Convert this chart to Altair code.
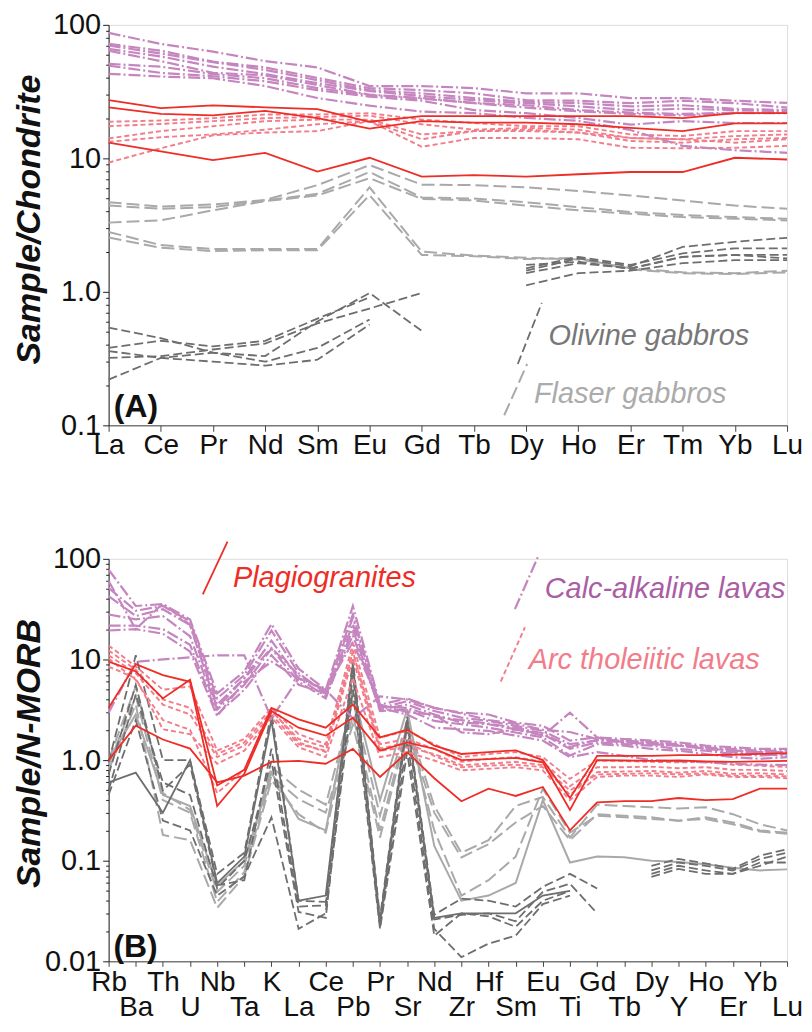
import altair as alt
import pandas as pd

# ---------------- categories ----------------
REE = ["La", "Ce", "Pr", "Nd", "Sm", "Eu", "Gd", "Tb", "Dy", "Ho", "Er", "Tm", "Yb", "Lu"]
SPIDER = ["Rb", "Ba", "Th", "U", "Nb", "Ta", "K", "La", "Ce", "Pb", "Pr", "Sr", "Nd",
          "Zr", "Hf", "Sm", "Eu", "Ti", "Gd", "Tb", "Dy", "Y", "Ho", "Er", "Yb", "Lu"]

# ---------------- panel A : chondrite-normalised REE ----------------
a_calc = [
    [87, 72, 63, 53.5, 48, 34.8, 34.8, 33.6, 30.7, 30.7, 28.3, 28.3, 27, 26],
    [72, 64, 53, 48, 40, 33.6, 32.4, 30.7, 27.3, 27, 25.9, 27, 25.9, 24],
    [70, 61, 52.5, 46, 38.5, 32.4, 30.7, 28.3, 26.5, 25.9, 24.5, 25, 23.5, 23],
    [66, 58, 48.6, 42.8, 36.6, 31.9, 29.3, 27.3, 25.9, 24.5, 23, 23.5, 23, 22.6],
    [64, 53.5, 43.7, 41.9, 35.4, 30, 28.3, 26, 25, 23, 22, 21.5, 22, 22],
    [51, 48.6, 42.8, 39.8, 33.6, 29.8, 28, 25.9, 24, 22.5, 21.5, 21, 21.8, 21.8],
    [49.5, 43.7, 41.2, 37.8, 32.4, 29, 27, 23, 21.8, 20.1, 17.9, 19, 18.4, 18.4],
    [43, 41, 39.8, 34.8, 28.3, 24.8, 22.4, 21.8, 20.1, 19.1, 16.3, 12.4, 11.5, 11],
]
a_plag = [
    [27.3, 23.8, 24.9, 24.1, 23.4, 18.8, 20.7, 20.7, 20.7, 20.7, 20.7, 20, 21.8, 21.8],
    [24.1, 21.5, 21, 22.7, 20, 16.7, 19, 18.5, 18.5, 18, 16.9, 16, 18.3, 18.3],
    [13.1, 11.3, 9.7, 11, 7.95, 10.1, 7.3, 7.5, 7.3, 7.6, 7.9, 7.9, 10.1, 9.8],
]
a_arc = [
    [18.8, 19.2, 20, 21.3, 21.3, 21.8, 19.5, 18.4, 17.4, 17.4, 15.1, 14.7, 16, 16],
    [17.4, 18.1, 19, 20, 20.4, 20.9, 18, 16.4, 16.9, 16.4, 14.2, 13.9, 14.7, 15.1],
    [14.1, 16, 17.4, 19, 19.5, 19.5, 15.1, 16, 16.4, 15.6, 13.5, 13.1, 13.9, 14.2],
    [13.3, 14.4, 15.1, 16.4, 18, 19, 13.9, 16, 16, 15.6, 14.2, 13.9, 13.1, 13.9],
    [9.3, 11.9, 14.9, 15.6, 16, 19, 12.2, 14.2, 14.2, 13.9, 12, 11.9, 12, 12.4],
]
a_flaser = [
    [4.69, 4.36, 4.51, 4.88, 6.3, 8.9, 6.35, 6.3, 6.06, 5.7, 5.27, 4.84, 4.43, 4.19],
    [4.43, 4.19, 4.31, 4.84, 5.42, 7.9, 5.1, 5.0, 4.69, 4.31, 3.96, 3.76, 3.63, 3.53],
    [3.30, 3.43, 4.08, 4.78, 5.27, 7.1, 4.97, 4.84, 4.43, 4.08, 3.85, 3.63, 3.53, 3.43],
    [2.81, 2.24, 2.09, 2.09, 2.09, 6.06, 2.0, 1.87, 1.80, 1.75, 1.50, 1.40, 1.38, 1.44],
    [2.55, 2.14, 2.02, 2.05, 2.05, 5.3, 1.89, 1.85, 1.76, 1.80, 1.47, 1.38, 1.36, 1.40],
]
a_olivine = [
    [0.54, 0.45, 0.35, 0.33, 0.60, 0.98, 0.51, None, 1.44, 1.78, 1.55, 2.17, 2.37, 2.54],
    [0.38, 0.43, 0.39, 0.43, 0.63, 0.91, None, None, 1.50, 1.83, 1.59, 1.94, 2.12, 2.12],
    [0.32, 0.33, 0.37, 0.41, 0.58, 0.75, 0.98, None, 1.59, 1.68, 1.49, 1.83, 1.89, 1.78],
    [0.36, 0.32, 0.30, 0.28, 0.31, 0.57, None, None, 1.12, 1.38, 1.44, 1.64, 1.73, 1.73],
    [0.22, 0.32, 0.35, 0.30, 0.38, 0.62, None, None, 1.38, 1.64, 1.50, 1.83, 1.89, 1.89],
]

# ---------------- panel B : N-MORB-normalised multi-element ----------------
b_calc = [
    [78, 34, 35.5, 25, 4.6, 7.6, 22.5, 8.1, 5.0, 34, 3.56, 4.1, 3.3, 2.96, 2.84, 2.36, 2.19, 1.56, 1.68, 1.62, 1.56, 1.5, 1.39, 1.34, 1.29, 1.29],
    [51.5, 30.5, 34, 24, 4.1, 7.0, 19.4, 7.3, 4.6, 26, 3.3, 3.84, 3.07, 2.64, 2.45, 2.19, 1.95, 1.44, 1.56, 1.5, 1.44, 1.39, 1.34, 1.24, 1.2, 1.2],
    [42.7, 27, 31.6, 22, 3.56, 6.5, 15.4, 6.5, 4.3, 22.5, 3.18, 3.56, 2.84, 2.36, 2.27, 2.02, 1.81, 1.29, 1.5, 1.44, 1.39, 1.29, 1.24, 1.15, 1.11, 1.15],
    [28, 25, 27, 17, 3.18, 5.6, 12.8, 6.0, 4.1, 20, 3.07, 3.18, 2.45, 2.27, 2.1, 1.88, 1.68, 1.11, 1.44, 1.39, 1.29, 1.24, 1.15, 1.07, 1.03, 1.07],
    [21.7, 21.7, 20, 14, 2.84, 5.0, 11, 5.6, 4.6, 17.3, 3.3, 2.84, 2.1, 2.02, 1.95, 1.75, 1.56, 1.07, 1.2, 1.1, 1.0, 0.97, 0.95, 0.92, 0.9, 0.89],
    [19.4, 20, 18, 12, 2.74, 6.0, 9.5, 6.5, 5.0, 14.9, 3.56, 3.0, 2.84, 1.88, 1.81, 2.02, 1.75, 2.96, 1.68, 1.5, 1.44, 1.39, 1.3, 1.25, 1.2, 1.2],
    [2.96, 9.5, 10, 10.5, 11, 11, 2.6, 6.5, 5.0, 2.6, 4.3, 4.0, 3.3, 2.9, 2.5, 2.3, 2.0, 1.9, 1.62, 1.56, 1.5, 1.44, 1.34, 1.29, 1.24, 1.24],
    [60, 20, 36, 22, 3.3, 6.5, 13, 7, 4.8, 28, 3.4, 3.3, 2.7, 2.5, 2.3, 2.1, 1.85, 1.35, 1.6, 1.55, 1.5, 1.4, 1.3, 1.2, 1.15, 1.1],
]
b_plag = [
    [9.5, 7.6, 4.1, 6.3, 0.56, 0.8, 3.3, 2.54, 2.1, 3.56, 1.68, 2.0, 1.39, 1.15, 1.2, 1.25, 1.0, 0.42, 1.1, 1.1, 1.1, 1.12, 1.12, 1.13, 1.15, 1.17],
    [3.3, 9.0, 7.0, 6.0, 0.35, 0.73, 3.07, 2.1, 1.75, 2.64, 1.24, 1.5, 1.29, 1.0, 1.02, 1.05, 0.95, 0.32, 1.0, 0.99, 0.98, 0.99, 0.97, 0.96, 0.97, 0.98],
    [1.0, 2.2, 1.6, 1.3, 0.6, 0.7, 0.96, 0.98, 0.92, 1.29, 0.68, 1.2, 0.66, 0.39, 0.52, 0.44, 0.54, 0.2, 0.38, 0.39, 0.39, 0.42, 0.4, 0.41, 0.52, 0.52],
]
b_arc = [
    [13.8, 8.5, 5.0, 5.4, 1.24, 1.62, 3.3, 1.81, 1.44, 14.3, 1.68, 1.95, 1.44, 1.07, 1.15, 1.2, 1.07, 0.65, 0.99, 0.98, 0.96, 0.95, 0.96, 0.9, 0.88, 0.85],
    [12.3, 7.9, 4.0, 3.3, 1.15, 1.5, 3.07, 1.62, 1.34, 11.9, 1.44, 1.62, 1.29, 0.96, 1.03, 1.07, 0.96, 0.55, 0.85, 0.85, 0.86, 0.83, 0.85, 0.8, 0.8, 0.78],
    [11, 7.3, 3.56, 2.84, 1.07, 1.39, 2.84, 1.44, 1.24, 10.2, 1.24, 1.34, 1.15, 0.89, 0.92, 0.96, 0.89, 0.45, 0.76, 0.77, 0.78, 0.75, 0.78, 0.73, 0.74, 0.72],
    [8.5, 6.5, 2.02, 1.81, 0.92, 1.24, 2.64, 1.34, 1.07, 6.5, 1.07, 1.2, 0.99, 0.79, 0.82, 0.85, 0.79, 0.4, 0.68, 0.7, 0.7, 0.68, 0.72, 0.68, 0.68, 0.66],
    [10.2, 6.25, 2.5, 2.0, 0.47, 0.8, 3.2, 1.5, 1.2, 12, 1.3, 1.5, 1.1, 0.85, 0.88, 0.9, 0.85, 0.5, 0.72, 0.73, 0.74, 0.72, 0.74, 0.7, 0.7, 0.69],
]
b_flaser = [
    [1.0, 5.4, 0.47, 0.32, 0.049, 0.089, 0.85, 0.51, 0.36, 3.9, 0.28, 2.5, 0.35, 0.12, 0.16, 0.35, 0.43, 0.17, 0.36, 0.35, 0.34, 0.33, 0.34, 0.29, 0.23, 0.2],
    [0.9, 4.3, 0.4, 0.3, 0.039, 0.077, 0.7, 0.41, 0.30, 2.25, 0.17, 2.0, 0.3, 0.108, 0.146, 0.24, 0.35, 0.16, 0.29, 0.28, 0.27, 0.25, 0.27, 0.24, 0.2, 0.19],
    [0.8, 3.56, 0.18, 0.16, 0.034, 0.07, 0.63, 0.29, 0.19, 2.8, 0.2, 2.2, 0.2, 0.045, 0.064, 0.11, 0.52, 0.19, 0.28, 0.27, 0.26, 0.25, 0.26, 0.23, 0.195, 0.185],
]
b_flaser_solid = [
    [1.0, 2.84, 0.45, 0.35, 0.057, 0.1, 0.75, 0.26, 0.2, 5.0, 0.4, 3.2, 0.14, 0.04, 0.045, 0.06, 0.4, 0.096, 0.11, 0.108, 0.1, 0.097, 0.092, 0.085, 0.08, 0.082],
]
b_olivine = [
    [0.95, 11, 1.0, 1.0, 0.074, 0.12, 3.0, 0.04, 0.039, 10, 0.027, 2.7, 0.029, 0.042, 0.04, 0.035, 0.055, 0.074, 0.053, None, 0.089, 0.104, 0.094, 0.083, 0.112, 0.13],
    [0.72, 5.6, 0.5, 0.9, 0.057, 0.064, 1.3, 0.035, 0.036, 8.7, 0.024, 2.2, 0.026, 0.029, 0.03, 0.025, 0.049, 0.059, 0.03, None, 0.08, 0.096, 0.089, 0.08, 0.104, 0.12],
    [0.5, 4.5, 0.6, 0.45, 0.053, 0.1, 0.98, 0.031, 0.027, 7, 0.022, 1.6, 0.021, 0.011, 0.015, 0.018, 0.037, 0.045, None, None, 0.074, 0.089, 0.08, 0.074, 0.096, 0.096],
    [0.45, 2.5, 0.25, 0.2, 0.045, 0.07, 0.27, 0.021, 0.03, 5, 0.021, 1.2, 0.018, 0.03, 0.028, 0.022, 0.04, 0.05, None, None, 0.069, 0.083, 0.074, 0.074, 0.089, 0.11],
]
b_olivine_solid = [
    [0.6, 0.75, 0.3, 1.0, 0.06, 0.11, 2.5, 0.04, 0.045, 9, 0.025, 2.5, 0.027, 0.03, 0.03, 0.03, 0.045, 0.05, None, None, None, None, None, None, None, None],
]

# ---------------- annotation texts ----------------
a_labels = ["Olivine gabbros", "Flaser gabbros"]
b_labels = ["Plagiogranites", "Calc-alkaline lavas", "Arc tholeiitic lavas"]

FONT = "Liberation Sans"
STYLE = {
    "flaser": dict(color="#a9a9a9", strokeDash=[13, 5], strokeWidth=2.0),
    "flaser_solid": dict(color="#a9a9a9", strokeWidth=2.0),
    "olivine": dict(color="#6e6e6e", strokeDash=[9, 4], strokeWidth=1.8),
    "olivine_solid": dict(color="#6e6e6e", strokeWidth=1.8),
    "arc": dict(color="#f27c89", strokeDash=[5, 3], strokeWidth=1.9),
    "calc": dict(color="#c585bf", strokeDash=[12, 3, 2, 3], strokeWidth=2.2),
    "plag": dict(color="#ee2d26", strokeWidth=1.8),
}
W = 681


def long_table(elements, groups):
    rows = []
    for g, series in groups.items():
        for k, vals in enumerate(series):
            seg = 0
            for i, v in enumerate(vals):
                if v is None:
                    seg += 1
                    continue
                rows.append(dict(group=g, line=f"{g}-{k}-{seg}", i=i, el=elements[i], v=v))
    return pd.DataFrame(rows)


def log_axis(lo_exp, hi_exp, title, title_y):
    majors = [round(10.0 ** e, 6) for e in range(lo_exp, hi_exp + 1)]
    vals = []
    for e in range(lo_exp, hi_exp):
        for m in range(1, 10):
            vals.append(round(m * 10.0 ** e, 6))
    vals.append(majors[-1])
    test = " || ".join(f"datum.value == {m}" for m in majors)
    lab = ("datum.value == 100 ? '100' : datum.value == 10 ? '10' : datum.value == 1 ? '1.0' : "
           "datum.value == 0.1 ? '0.1' : datum.value == 0.01 ? '0.01' : ''")
    return alt.Axis(values=vals, labelExpr=lab, grid=False, labelFlush=False, labelOverlap=False,
                    tickSize={"condition": {"test": test, "value": 6}, "value": 3},
                    tickColor="#222", domainColor="#222", tickWidth=1, domainWidth=1,
                    labelFont=FONT, labelFontSize=29, labelColor="#111", labelPadding=2,
                    title=title, titleFont=FONT, titleFontSize=34, titleFontWeight="bold",
                    titleFontStyle="italic", titleColor="#111",
                    titleX=-69, titleY=title_y, titleAngle=270, titleAlign="center",
                    titleBaseline="alphabetic")


def cat_axis(names, two_rows, pad, tick):
    arr = "[" + ",".join(f"'{n}'" for n in names) + "]"
    if two_rows:
        expr = f"datum.value % 2 == 0 ? {arr}[datum.value] : ['', {arr}[datum.value]]"
    else:
        expr = f"{arr}[datum.value]"
    return alt.Axis(values=list(range(len(names))), labelExpr=expr, grid=False, labelFlush=False,
                    labelOverlap=False, tickSize=tick, tickColor="#444", domainColor="#444",
                    labelFont=FONT, labelFontSize=28, labelColor="#111", labelPadding=pad,
                    labelLineHeight=25, title=None)


def panel(elements, groups, lo_exp, hi_exp, ytitle, title_y, two_rows, pad, tick, h, texts, keys, tag):
    df = long_table(elements, groups)
    xs = alt.X("i:Q", scale=alt.Scale(domain=[0, len(elements) - 1], nice=False, zero=False),
               axis=cat_axis(elements, two_rows, pad, tick))
    ys = alt.Y("v:Q", scale=alt.Scale(type="log", domain=[10.0 ** lo_exp, 10.0 ** hi_exp], nice=False),
               axis=log_axis(lo_exp, hi_exp, ytitle, title_y))
    layers = []
    for g in ["flaser", "flaser_solid", "olivine", "olivine_solid", "arc", "calc", "plag"]:
        if g not in groups:
            continue
        layers.append(alt.Chart(df[df.group == g]).mark_line(**STYLE[g]).encode(
            x=xs, y=ys, detail="line:N"))
    for g, (i1, v1, i2, v2) in keys:
        kd = pd.DataFrame({"i": [i1, i2], "v": [v1, v2]})
        layers.append(alt.Chart(kd).mark_line(**STYLE[g]).encode(x=xs, y=ys))
    for txt, color, i, v in texts:
        td = pd.DataFrame({"i": [i], "v": [v], "t": [txt]})
        layers.append(alt.Chart(td).mark_text(align="left", baseline="middle", font=FONT,
                                              fontSize=29, fontStyle="italic", color=color)
                      .encode(x=xs, y=ys, text="t:N"))
    td = pd.DataFrame({"i": [tag[1]], "v": [tag[2]], "t": [tag[0]]})
    layers.append(alt.Chart(td).mark_text(align="left", baseline="middle", font=FONT, fontSize=32,
                                          fontWeight="bold", color="#111").encode(x=xs, y=ys, text="t:N"))
    return alt.layer(*layers).properties(width=W, height=h)


chartA = panel(
    REE,
    {"calc": a_calc, "plag": a_plag, "arc": a_arc, "flaser": a_flaser, "olivine": a_olivine},
    -1, 2, "Sample/Chondrite", 195, False, 0, 6, 402,
    [(a_labels[0], "#777777", 8.43, 0.467), (a_labels[1], "#ababab", 8.15, 0.173)],
    [("olivine", (8.30, 0.826, 7.84, 0.288)), ("flaser", (8.02, 0.288, 7.58, 0.119))],
    ("(A)", 0.1, 0.136),
)

chartB = panel(
    SPIDER,
    {"calc": b_calc, "plag": b_plag, "arc": b_arc, "flaser": b_flaser, "flaser_solid": b_flaser_solid,
     "olivine": b_olivine, "olivine_solid": b_olivine_solid},
    -2, 2, "Sample/N-MORB", 195, True, 2, 5, 404,
    [(b_labels[0], "#ee2d26", 4.58, 65), (b_labels[1], "#a95ea4", 16.07, 49.7),
     (b_labels[2], "#f27c89", 15.48, 9.8)],
    [("plag", (4.38, 148, 3.47, 44.4)), ("calc", (15.85, 109, 14.97, 31.6)),
     ("arc", (15.34, 20.9, 14.45, 6.04))],
    ("(B)", 0.18, 0.014),
)

chart = alt.vconcat(chartA, chartB, spacing=77).properties(
    padding={"left": 4, "top": 0, "right": 0, "bottom": 0}
).configure_view(stroke=None).configure(background="white")

chart.save("out.html", embed_options={"renderer": "svg", "actions": False})
